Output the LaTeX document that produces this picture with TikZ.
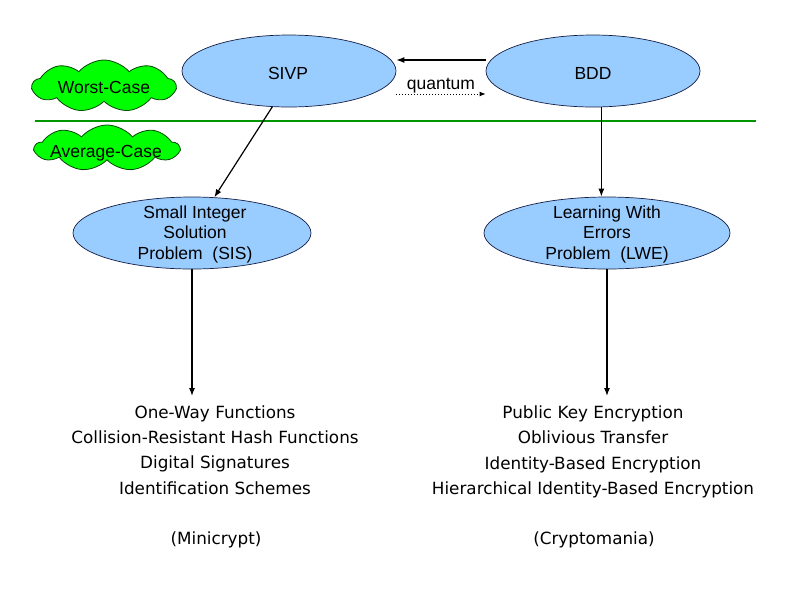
\documentclass[tikz,border=0pt]{standalone}
\usepackage{fontspec}
\setmainfont{Liberation Sans}
\newfontfamily\handfont{DejaVu Sans}
\usetikzlibrary{shapes.geometric,shapes.symbols,arrows.meta,calc}
\definecolor{blobfill}{RGB}{153,204,255}
\definecolor{blobline}{RGB}{20,30,70}
\definecolor{cloudfill}{RGB}{0,255,0}
\definecolor{cloudline}{RGB}{0,70,0}
\definecolor{sepline}{RGB}{0,150,0}
\tikzset{
  blob/.style={ellipse, fill=blobfill, draw=blobline, line width=0.7pt, inner sep=0pt},
  blobtext/.style={align=center, inner sep=0pt, font=\fontsize{17.5}{20.5}\selectfont},
  cloudbox/.style={cloud, cloud puffs=9, cloud puff arc=100, cloud ignores aspect,
    fill=cloudfill, draw=cloudline, line width=0.8pt, inner sep=0pt},
  cloudtext/.style={inner sep=0pt, font=\fontsize{17.5}{20}\selectfont},
  arr/.style={line width=1.2pt, -{Latex[length=8pt,width=6pt]}},
  dotarr/.style={line width=1pt, dotted, -{Latex[length=6pt,width=5pt]}},
  listtext/.style={align=center, inner sep=0pt, font=\handfont\fontsize{16.8}{25.3}\selectfont},
}
\begin{document}
\begin{tikzpicture}[x=1pt,y=-1pt]
\useasboundingbox (0,0) rectangle (794,595);

% separator line
\coordinate (lineL) at (35,121);
\coordinate (lineR) at (756,121);
\draw[sepline, line width=1.1pt] (lineL) -- (lineR);

% clouds
\node[cloudbox, minimum width=143pt, minimum height=52pt] (wc) at (104,86) {};
\node[cloudtext] (wct) at (104,87) {Worst-Case};
\node[cloudbox, minimum width=144pt, minimum height=46pt] (ac) at (107,148) {};
\node[cloudtext] (act) at (106,153) {Average-Case};

% top ellipses
\node[blob, minimum width=214pt, minimum height=72pt] (sivp) at (289,71) {};
\node[blobtext] (sivpt) at (288,73) {SIVP};
\node[blob, minimum width=214pt, minimum height=72pt] (bdd) at (593,71) {};
\node[blobtext] (bddt) at (593,73) {BDD};

% middle ellipses
\node[blob, minimum width=238pt, minimum height=72pt] (sis) at (192,233) {};
\node[blobtext] (sist) at (195,234) {Small Integer\\Solution\\Problem~~(SIS)};
\node[blob, minimum width=246pt, minimum height=72pt] (lwe) at (607,233) {};
\node[blobtext] (lwet) at (607,234) {Learning With\\Errors\\Problem~~(LWE)};

% arrows between top ellipses
\draw[arr] ($(bdd.west)+(0,-11)$) coordinate (qa) -- (qa -| sivp.east);
\draw[dotarr] ($(sivp.east)+(0,23)$) coordinate (qb) -- (qb -| bdd.west)
  node[midway, above=-1pt, inner sep=1pt, font=\fontsize{17.5}{20}\selectfont] (qt) {quantum};

% downward arrows
\draw[arr] (sivp.245) -- (sis.58);
\draw[arr] (bdd.-77) -- (bdd.-77 |- lwe.north);

\coordinate (endL) at (192,396);
\coordinate (endR) at (607,396);
\draw[arr] (sis.south) -- (endL);
\draw[arr] (lwe.south) -- (endR);

% bottom lists
\node[listtext] (minil) at (215,450) {One-Way Functions\\Collision-Resistant Hash Functions\\Digital Signatures\\Identification Schemes};
\node[listtext] (cryptl) at (593,452) {Public Key Encryption\\Oblivious Transfer\\Identity-Based Encryption\\Hierarchical Identity-Based Encryption};
\node[listtext] (mini) at (216,540) {(Minicrypt)};
\node[listtext] (crypt) at (594,540) {(Cryptomania)};
\end{tikzpicture}
\end{document}
